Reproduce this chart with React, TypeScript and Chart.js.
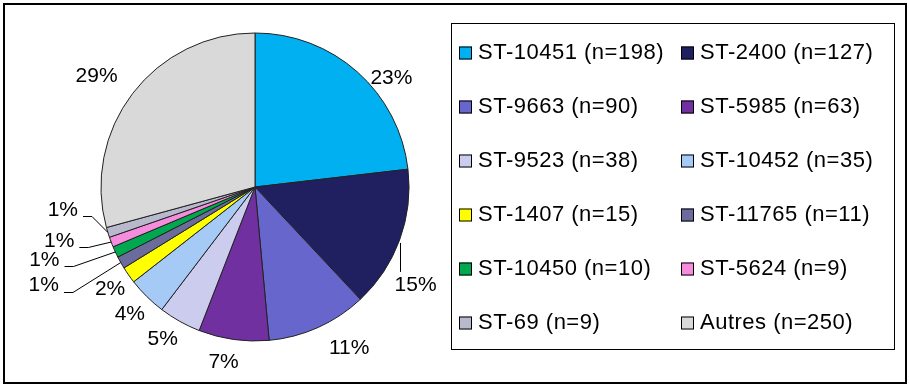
import React, { useEffect, useRef } from "react";
import { Chart, registerables } from "chart.js";

Chart.register(...registerables);

const categories = [
  "ST-10451 (n=198)",
  "ST-2400 (n=127)",
  "ST-9663 (n=90)",
  "ST-5985 (n=63)",
  "ST-9523 (n=38)",
  "ST-10452 (n=35)",
  "ST-1407 (n=15)",
  "ST-11765 (n=11)",
  "ST-10450 (n=10)",
  "ST-5624 (n=9)",
  "ST-69 (n=9)",
  "Autres (n=250)",
];
const counts = [198, 127, 90, 63, 38, 35, 15, 11, 10, 9, 9, 250];
const percentLabels = ["23%", "15%", "11%", "7%", "5%", "4%", "2%", "1%", "1%", "1%", "1%", "29%"];
const sliceColors = [
  "#00B0F0",
  "#202060",
  "#6666CC",
  "#7030A0",
  "#CCCCEE",
  "#A6CAF6",
  "#FFFF00",
  "#6C6C9C",
  "#00A850",
  "#F68CDE",
  "#B8B9CC",
  "#D9D9D9",
];

// label placement (offset of label centre from slice outer midpoint) and leader style
const labelOffsets: [number, number][] = [
  [34, 6], [16, 45], [31, 21], [-10, 22.5], [-17, 18], [-17, 17.5], [-18.5, 14.6],
  [-77, 23], [-71, 8], [-52, -1], [-45, -22], [-36, -17],
];
const leaderStyles = ["none", "down", "none", "none", "none", "none", "none", "left", "left", "left", "left", "none"];

const FONT = '"Liberation Sans", Arial, sans-serif';

const framePlugin = {
  id: "frame",
  beforeDraw(chart: any) {
    const ctx = chart.ctx;
    ctx.save();
    ctx.fillStyle = "#ffffff";
    ctx.fillRect(0, 0, chart.width, chart.height);
    ctx.restore();
  },
  afterDraw(chart: any) {
    const ctx = chart.ctx as CanvasRenderingContext2D;
    ctx.save();
    // outer frame
    ctx.strokeStyle = "#000";
    ctx.lineWidth = 2;
    ctx.strokeRect(4, 4, 902, 379);
    // legend box
    ctx.lineWidth = 1;
    ctx.strokeRect(451.5, 23.5, 443, 326);

    // pie labels
    const meta = chart.getDatasetMeta(0);
    ctx.font = `21px ${FONT}`;
    ctx.fillStyle = "#000";
    ctx.textAlign = "center";
    ctx.textBaseline = "middle";
    meta.data.forEach((arc: any, i: number) => {
      const { x, y, startAngle, endAngle, outerRadius } = arc.getProps(
        ["x", "y", "startAngle", "endAngle", "outerRadius"],
        true
      );
      const mid = (startAngle + endAngle) / 2;
      const ex = x + outerRadius * Math.cos(mid);
      const ey = y + outerRadius * Math.sin(mid);
      const [dx, dy] = labelOffsets[i];
      const cx = ex + dx;
      const cy = ey + dy;
      const text = percentLabels[i];
      const w = ctx.measureText(text).width;
      ctx.strokeStyle = "#000";
      ctx.lineWidth = 1;
      if (leaderStyles[i] === "down") {
        ctx.beginPath();
        ctx.moveTo(Math.round(ex) + 0.5, ey + 3);
        ctx.lineTo(Math.round(ex) + 0.5, cy - 13);
        ctx.stroke();
      } else if (leaderStyles[i] === "left") {
        const right = cx + w / 2;
        const ly = Math.round(cy + 6) + 0.5;
        ctx.beginPath();
        ctx.moveTo(right + 5, ly);
        ctx.lineTo(right + 14, ly);
        ctx.lineTo(ex, ey);
        ctx.stroke();
      }
      ctx.fillText(text, cx, cy);
    });

    // legend
    ctx.font = `22px ${FONT}`;
    (ctx as any).letterSpacing = "0.5px";
    ctx.textAlign = "left";
    ctx.textBaseline = "alphabetic";
    const colX = [459, 681];
    categories.forEach((label, i) => {
      const col = i % 2;
      const row = Math.floor(i / 2);
      const base = 58.5 + row * 54;
      const sx = colX[col];
      ctx.fillStyle = sliceColors[i];
      ctx.fillRect(sx, base - 12, 13, 13);
      ctx.strokeStyle = "#000";
      ctx.lineWidth = 1;
      ctx.strokeRect(sx + 0.5, base - 11.5, 12, 12);
      ctx.fillStyle = "#000";
      ctx.fillText(label, sx + 19, base);
    });
    ctx.restore();
  },
};

export default function App() {
  const ref = useRef<HTMLCanvasElement | null>(null);
  useEffect(() => {
    if (!ref.current) return;
    const chart = new Chart(ref.current, {
      type: "pie",
      data: {
        labels: categories,
        datasets: [
          {
            data: counts,
            backgroundColor: sliceColors,
            borderColor: "#222",
            borderWidth: 1,
          },
        ],
      },
      options: {
        responsive: false,
        animation: false,
        events: [],
        layout: { padding: { left: 100.5, right: 499.5, top: 32.5, bottom: 46.5 } },
        plugins: {
          legend: { display: false },
          tooltip: { enabled: false },
        },
      },
      plugins: [framePlugin],
    });
    return () => chart.destroy();
  }, []);
  return (
    <div style={{ position: "absolute", left: 0, top: 0, width: 909, height: 388 }}>
      <canvas ref={ref} width={909} height={388} style={{ display: "block" }} />
    </div>
  );
}
